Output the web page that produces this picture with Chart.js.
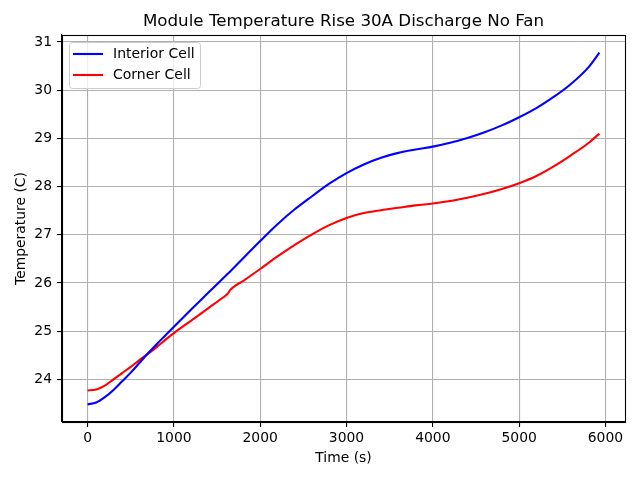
<!DOCTYPE html>
<html>
<head>
<meta charset="utf-8">
<script src="https://cdn.jsdelivr.net/npm/chart.js@4.4.1/dist/chart.umd.min.js"></script>
<style>
html,body{margin:0;padding:0;background:#fff;}
#wrap{width:640px;height:480px;}
</style>
</head>
<body>
<div id="wrap"><canvas id="c" width="640" height="480"></canvas></div>
<script>
const chartTitle = 'Module Temperature Rise 30A Discharge No Fan';
const xLabel = 'Time (s)';
const yLabel = 'Temperature (C)';
const seriesNames = ['Interior Cell', 'Corner Cell'];
const times = [0,100,200,300,400,500,600,700,800,900,1000,1200,1400,1600,1620,1660,1800,2000,2200,2400,2600,2800,3000,3200,3400,3600,3800,4000,4200,4400,4600,4800,5000,5200,5400,5600,5800,5930];
const interior = [23.48,23.52,23.63,23.78,23.96,24.14,24.34,24.54,24.73,24.91,25.09,25.45,25.80,26.15,26.185,26.255,26.51,26.87,27.22,27.53,27.80,28.06,28.28,28.46,28.60,28.70,28.77,28.83,28.91,29.01,29.13,29.27,29.44,29.63,29.86,30.13,30.47,30.78];
const corner = [23.77,23.79,23.87,24.00,24.13,24.26,24.40,24.53,24.67,24.82,24.96,25.22,25.48,25.74,25.77,25.87,26.04,26.29,26.55,26.79,27.01,27.20,27.35,27.45,27.51,27.56,27.61,27.65,27.70,27.77,27.85,27.95,28.07,28.22,28.42,28.65,28.90,29.10];
const xTicks = [0,1000,2000,3000,4000,5000,6000];
const yTicks = [24,25,26,27,28,29,30,31];

const FONT = 'DejaVu Sans';
function pts(xs, ys){ return xs.map((x,i)=>({x:x, y:ys[i]})); }

function margins(vals){
  const mn = Math.min(...vals), mx = Math.max(...vals), m = (mx-mn)*0.05;
  return [mn-m, mx+m];
}
const xr = margins(times);
const yr = margins(interior.concat(corner));

const framePlugin = {
  id: 'frame',
  afterDraw(chart){
    const {ctx, chartArea:a} = chart;
    ctx.save();
    ctx.strokeStyle = '#000';
    ctx.lineWidth = 1.1;
    ctx.strokeRect(Math.round(a.left)+0.5, Math.round(a.top)+0.5, Math.round(a.right-a.left), Math.round(a.bottom-a.top));
    // legend
    const lx = 69.5, ly = 42.5, lw = 131, lh = 46, r = 3;
    ctx.globalAlpha = 0.8;
    ctx.fillStyle = '#fff';
    ctx.beginPath();
    ctx.roundRect(lx, ly, lw, lh, r);
    ctx.fill();
    ctx.globalAlpha = 1;
    ctx.strokeStyle = '#cccccc';
    ctx.lineWidth = 1;
    ctx.stroke();
    chart.data.datasets.forEach((ds, i) => {
      const y = 54 + i*21;
      ctx.strokeStyle = ds.borderColor;
      ctx.lineWidth = 2.1;
      ctx.beginPath();
      ctx.moveTo(73, y);
      ctx.lineTo(103, y);
      ctx.stroke();
      ctx.fillStyle = '#000';
      ctx.font = '14px "' + FONT + '"';
      ctx.textBaseline = 'middle';
      ctx.textAlign = 'left';
      ctx.fillText(ds.label, 113, y);
    });
    ctx.restore();
  }
};

new Chart(document.getElementById('c'), {
  type: 'line',
  data: {
    datasets: [
      {label: seriesNames[0], data: pts(times, interior), borderColor: '#0000ff', backgroundColor: '#0000ff', borderWidth: 2.1, pointRadius: 0, cubicInterpolationMode: 'monotone', fill: false},
      {label: seriesNames[1], data: pts(times, corner), borderColor: '#ff0000', backgroundColor: '#ff0000', borderWidth: 2.1, pointRadius: 0, cubicInterpolationMode: 'monotone', fill: false}
    ]
  },
  options: {
    responsive: false,
    animation: false,
    devicePixelRatio: 1,
    layout: {padding: {top: 0, right: 15, left: 0, bottom: 0}},
    plugins: {
      legend: {display: false},
      tooltip: {enabled: false},
      title: {display: true, text: chartTitle, fullSize: false, color: '#000', font: {family: FONT, size: 16.7, weight: 'normal'}, padding: {top: 12, bottom: 3}}
    },
    scales: {
      x: {
        type: 'linear', min: xr[0], max: xr[1],
        afterBuildTicks: s => { s.ticks = xTicks.map(v => ({value: v})); },
        afterFit: s => { s.height = 58; },
        grid: {color: '#b0b0b0', lineWidth: 1.1, tickColor: '#000', tickLength: 5, tickWidth: 1.1},
        border: {display: true, color: '#000', width: 1.1},
        ticks: {color: '#000', font: {family: FONT, size: 13.9}, padding: 3, maxRotation: 0, autoSkip: false, callback: v => String(v)},
        title: {display: true, text: xLabel, color: '#000', font: {family: FONT, size: 13.9}, padding: {bottom: 13.6, top: 0}}
      },
      y: {
        type: 'linear', min: yr[0], max: yr[1],
        afterBuildTicks: s => { s.ticks = yTicks.map(v => ({value: v})); },
        afterFit: s => { s.width = 62; },
        grid: {color: '#b0b0b0', lineWidth: 1.1, tickColor: '#000', tickLength: 5, tickWidth: 1.1},
        border: {display: true, color: '#000', width: 1.1},
        ticks: {color: '#000', font: {family: FONT, size: 13.9}, padding: 5, autoSkip: false, callback: v => String(v)},
        title: {display: true, text: yLabel, color: '#000', font: {family: FONT, size: 13.9}, padding: {top: 12.6, bottom: 0}}
      }
    }
  },
  plugins: [framePlugin]
});
</script>
</body>
</html>
